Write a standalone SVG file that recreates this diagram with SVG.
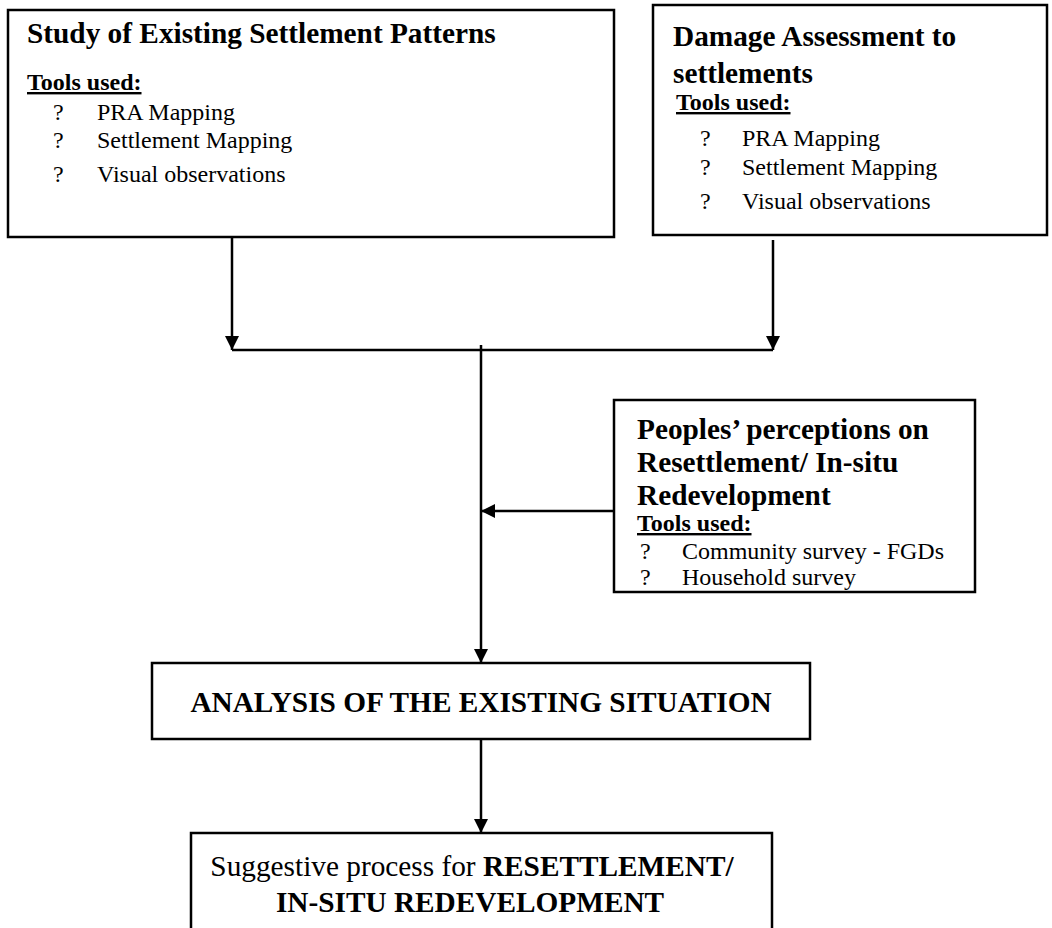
<svg xmlns="http://www.w3.org/2000/svg" width="1052" height="928" viewBox="0 0 1052 928">
  <style>
    .box { fill: #ffffff; stroke: #000000; stroke-width: 2.5; }
    .edge { fill: none; stroke: #000000; stroke-width: 2.5; }
    text { font-family: "Liberation Serif", "Times New Roman", serif; fill: #000000; }
    .title { font-size: 29.3px; font-weight: bold; }
    .tools { font-size: 24px; font-weight: bold; text-decoration: underline; }
    .item { font-size: 24px; }
    .big { font-size: 29.3px; }
    .bold { font-weight: bold; }
  </style>
  <defs>
    <marker id="arrow" markerWidth="14" markerHeight="14" refX="14" refY="7" orient="auto" markerUnits="userSpaceOnUse">
      <path d="M0,0 L14,7 L0,14 Z" fill="#000000"/>
    </marker>
  </defs>

  <rect width="1052" height="928" fill="#ffffff"/>

  <!-- connectors -->
  <g id="connectors">
    <path class="edge" d="M232,237 V350" marker-end="url(#arrow)"/>
    <path class="edge" d="M773,240 V350" marker-end="url(#arrow)"/>
    <path class="edge" d="M232,350 H773"/>
    <path class="edge" d="M481,345 V663" marker-end="url(#arrow)"/>
    <path class="edge" d="M614,511 H481" marker-end="url(#arrow)"/>
    <path class="edge" d="M481,739 V833" marker-end="url(#arrow)"/>
  </g>

  <!-- existing settlement patterns -->
  <g id="node-study">
    <rect class="box" x="8" y="10" width="606" height="227"/>
    <text class="title" x="27" y="43">Study of Existing Settlement Patterns</text>
    <text class="tools" x="27" y="90">Tools used:</text>
    <text class="item" x="53" y="120">?</text>
    <text class="item" x="97" y="120">PRA Mapping</text>
    <text class="item" x="53" y="148">?</text>
    <text class="item" x="97" y="148">Settlement Mapping</text>
    <text class="item" x="53" y="182">?</text>
    <text class="item" x="97" y="182">Visual observations</text>
  </g>

  <!-- damage assessment -->
  <g id="node-damage">
    <rect class="box" x="653" y="5" width="394" height="230"/>
    <text class="title" x="673" y="46">Damage Assessment to</text>
    <text class="title" x="673" y="83">settlements</text>
    <text class="tools" x="676" y="110">Tools used:</text>
    <text class="item" x="700" y="146">?</text>
    <text class="item" x="742" y="146">PRA Mapping</text>
    <text class="item" x="700" y="175">?</text>
    <text class="item" x="742" y="175">Settlement Mapping</text>
    <text class="item" x="700" y="209">?</text>
    <text class="item" x="742" y="209">Visual observations</text>
  </g>

  <!-- people's perceptions -->
  <g id="node-perceptions">
    <rect class="box" x="614" y="400" width="361" height="192"/>
    <text class="title" x="637" y="439">Peoples’ perceptions on</text>
    <text class="title" x="637" y="472">Resettlement/ In-situ</text>
    <text class="title" x="637" y="505">Redevelopment</text>
    <text class="tools" x="637" y="531">Tools used:</text>
    <text class="item" x="640" y="559">?</text>
    <text class="item" x="682" y="559">Community survey - FGDs</text>
    <text class="item" x="640" y="585">?</text>
    <text class="item" x="682" y="585">Household survey</text>
  </g>

  <!-- analysis -->
  <g id="node-analysis">
    <rect class="box" x="152" y="663" width="658" height="76"/>
    <text class="big bold" x="481" y="712" text-anchor="middle">ANALYSIS OF THE EXISTING SITUATION</text>
  </g>

  <!-- suggestive process -->
  <g id="node-process">
    <rect class="box" x="191" y="833" width="581" height="110"/>
    <text class="big" x="472" y="876" text-anchor="middle">Suggestive process for <tspan class="bold">RESETTLEMENT/</tspan></text>
    <text class="big bold" x="470" y="912" text-anchor="middle">IN-SITU REDEVELOPMENT</text>
  </g>
</svg>
